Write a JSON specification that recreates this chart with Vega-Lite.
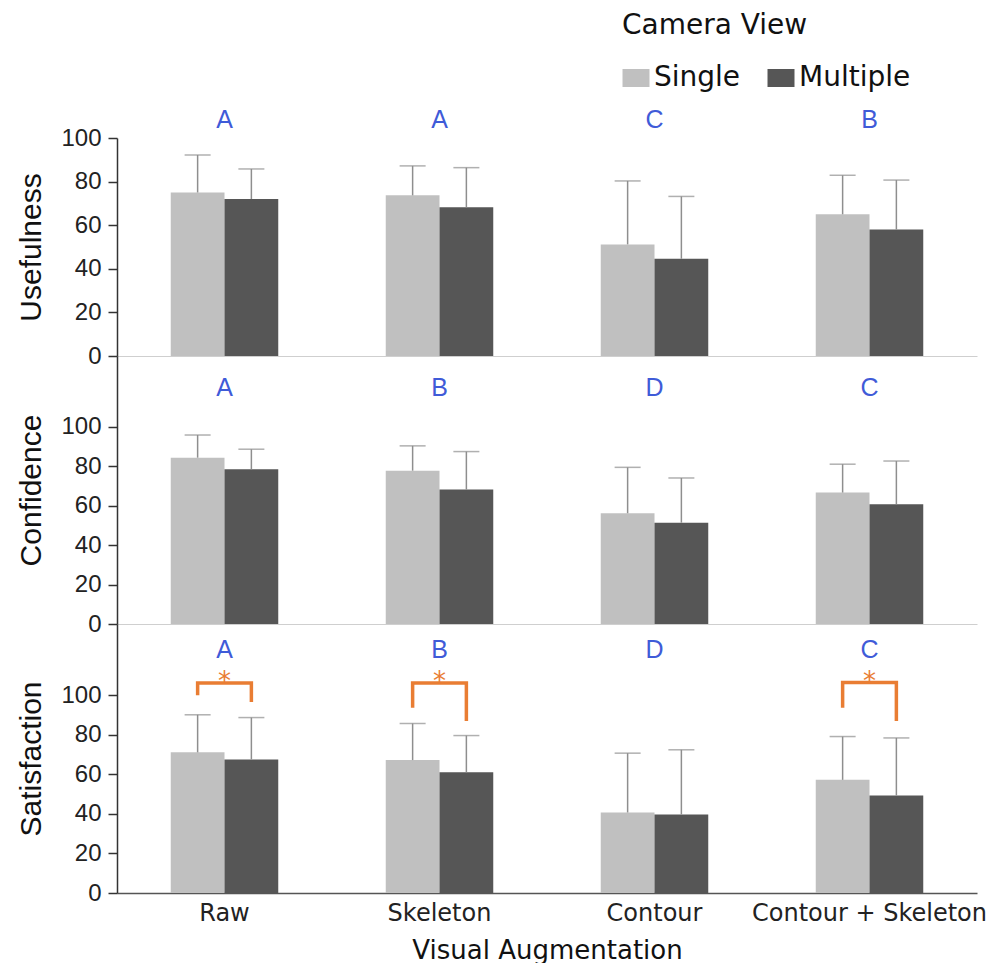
{
  "$schema": "https://vega.github.io/schema/vega-lite/v6.json",
  "padding": {"left": 16, "top": 12, "right": 0, "bottom": 0},
  "background": "white",
  "datasets": {
    "bars": [
      {"metric": "Usefulness", "aug": "Raw", "view": "Single", "mean": 75, "upper": 92.2},
      {"metric": "Usefulness", "aug": "Raw", "view": "Multiple", "mean": 72, "upper": 85.8},
      {"metric": "Usefulness", "aug": "Skeleton", "view": "Single", "mean": 73.7, "upper": 87.2},
      {"metric": "Usefulness", "aug": "Skeleton", "view": "Multiple", "mean": 68.2, "upper": 86.4},
      {"metric": "Usefulness", "aug": "Contour", "view": "Single", "mean": 51.2, "upper": 80.3},
      {"metric": "Usefulness", "aug": "Contour", "view": "Multiple", "mean": 44.6, "upper": 73.2},
      {"metric": "Usefulness", "aug": "Contour + Skeleton", "view": "Single", "mean": 65, "upper": 82.9},
      {"metric": "Usefulness", "aug": "Contour + Skeleton", "view": "Multiple", "mean": 58, "upper": 80.7},
      {"metric": "Confidence", "aug": "Raw", "view": "Single", "mean": 84.4, "upper": 95.9},
      {"metric": "Confidence", "aug": "Raw", "view": "Multiple", "mean": 78.5, "upper": 88.7},
      {"metric": "Confidence", "aug": "Skeleton", "view": "Single", "mean": 77.8, "upper": 90.4},
      {"metric": "Confidence", "aug": "Skeleton", "view": "Multiple", "mean": 68.2, "upper": 87.5},
      {"metric": "Confidence", "aug": "Contour", "view": "Single", "mean": 56.2, "upper": 79.5},
      {"metric": "Confidence", "aug": "Contour", "view": "Multiple", "mean": 51.4, "upper": 74.1},
      {"metric": "Confidence", "aug": "Contour + Skeleton", "view": "Single", "mean": 66.7, "upper": 81.1},
      {"metric": "Confidence", "aug": "Contour + Skeleton", "view": "Multiple", "mean": 60.8, "upper": 82.7},
      {"metric": "Satisfaction", "aug": "Raw", "view": "Single", "mean": 71.1, "upper": 90.1},
      {"metric": "Satisfaction", "aug": "Raw", "view": "Multiple", "mean": 67.5, "upper": 88.7},
      {"metric": "Satisfaction", "aug": "Skeleton", "view": "Single", "mean": 67.2, "upper": 85.7},
      {"metric": "Satisfaction", "aug": "Skeleton", "view": "Multiple", "mean": 61, "upper": 79.6},
      {"metric": "Satisfaction", "aug": "Contour", "view": "Single", "mean": 40.7, "upper": 70.7},
      {"metric": "Satisfaction", "aug": "Contour", "view": "Multiple", "mean": 39.7, "upper": 72.4},
      {"metric": "Satisfaction", "aug": "Contour + Skeleton", "view": "Single", "mean": 57.2, "upper": 79.1},
      {"metric": "Satisfaction", "aug": "Contour + Skeleton", "view": "Multiple", "mean": 49.3, "upper": 78.4}
    ],
    "letters": [
      {"metric": "Usefulness", "aug": "Raw", "letter": "A"},
      {"metric": "Usefulness", "aug": "Skeleton", "letter": "A"},
      {"metric": "Usefulness", "aug": "Contour", "letter": "C"},
      {"metric": "Usefulness", "aug": "Contour + Skeleton", "letter": "B"},
      {"metric": "Confidence", "aug": "Raw", "letter": "A"},
      {"metric": "Confidence", "aug": "Skeleton", "letter": "B"},
      {"metric": "Confidence", "aug": "Contour", "letter": "D"},
      {"metric": "Confidence", "aug": "Contour + Skeleton", "letter": "C"},
      {"metric": "Satisfaction", "aug": "Raw", "letter": "A"},
      {"metric": "Satisfaction", "aug": "Skeleton", "letter": "B"},
      {"metric": "Satisfaction", "aug": "Contour", "letter": "D"},
      {"metric": "Satisfaction", "aug": "Contour + Skeleton", "letter": "C"}
    ],
    "brackets": [
      {"aug": "Raw", "view": "Single", "y": 100, "ord": 1},
      {"aug": "Raw", "view": "Single", "y": 106.2, "ord": 2},
      {"aug": "Raw", "view": "Multiple", "y": 106.2, "ord": 3},
      {"aug": "Raw", "view": "Multiple", "y": 96.6, "ord": 4},
      {"aug": "Skeleton", "view": "Single", "y": 93.6, "ord": 1},
      {"aug": "Skeleton", "view": "Single", "y": 106.2, "ord": 2},
      {"aug": "Skeleton", "view": "Multiple", "y": 106.2, "ord": 3},
      {"aug": "Skeleton", "view": "Multiple", "y": 86.9, "ord": 4},
      {"aug": "Contour + Skeleton", "view": "Single", "y": 93.6, "ord": 1},
      {"aug": "Contour + Skeleton", "view": "Single", "y": 106.4, "ord": 2},
      {"aug": "Contour + Skeleton", "view": "Multiple", "y": 106.4, "ord": 3},
      {"aug": "Contour + Skeleton", "view": "Multiple", "y": 86.9, "ord": 4}
    ],
    "stars": [
      {"aug": "Raw", "mark": "*"},
      {"aug": "Skeleton", "mark": "*"},
      {"aug": "Contour + Skeleton", "mark": "*"}
    ]
  },
  "vconcat": [
    {
      "width": 860,
      "height": 218,
      "layer": [
        {
          "data": {"name": "bars"},
          "transform": [{"filter": "datum.metric == 'Usefulness'"}],
          "mark": {"type": "bar"},
          "encoding": {
            "x": {"field": "aug", "type": "nominal", "sort": ["Raw", "Skeleton", "Contour", "Contour + Skeleton"], "scale": {"paddingInner": 0.5, "paddingOuter": 0.25}, "axis": {"labels": false, "ticks": false, "title": null, "domainColor": "#cfcfcf", "domainWidth": 1}},
            "xOffset": {"field": "view", "type": "nominal", "sort": ["Single", "Multiple"], "scale": {"paddingInner": 0, "paddingOuter": 0}},
            "y": {"field": "mean", "type": "quantitative", "scale": {"domain": [0, 100], "nice": false}, "axis": {"values": [0, 20, 40, 60, 80, 100], "title": "Usefulness"}},
            "color": {"field": "view", "type": "nominal", "sort": ["Single", "Multiple"], "scale": {"domain": ["Single", "Multiple"], "range": ["#c0c0c0", "#565656"]}, "title": "Camera View"}
          }
        },
        {
          "data": {"name": "bars"},
          "transform": [{"filter": "datum.metric == 'Usefulness'"}],
          "mark": {"type": "rule", "color": "#8e8e8e", "strokeWidth": 1.5},
          "encoding": {
            "x": {"field": "aug", "type": "nominal", "sort": ["Raw", "Skeleton", "Contour", "Contour + Skeleton"]},
            "xOffset": {"field": "view", "type": "nominal", "sort": ["Single", "Multiple"]},
            "y": {"field": "mean", "type": "quantitative"},
            "y2": {"field": "upper"}
          }
        },
        {
          "data": {"name": "bars"},
          "transform": [{"filter": "datum.metric == 'Usefulness'"}],
          "mark": {"type": "tick", "color": "#8e8e8e", "thickness": 1.5, "size": 26, "orient": "horizontal"},
          "encoding": {
            "x": {"field": "aug", "type": "nominal", "sort": ["Raw", "Skeleton", "Contour", "Contour + Skeleton"]},
            "xOffset": {"field": "view", "type": "nominal", "sort": ["Single", "Multiple"]},
            "y": {"field": "upper", "type": "quantitative"}
          }
        },
        {
          "data": {"name": "letters"},
          "transform": [{"filter": "datum.metric == 'Usefulness'"}],
          "mark": {"type": "text", "color": "#3f5bd8", "font": "Liberation Sans", "fontSize": 25, "baseline": "middle"},
          "encoding": {
            "x": {"field": "aug", "type": "nominal", "sort": ["Raw", "Skeleton", "Contour", "Contour + Skeleton"]},
            "y": {"datum": 108.3},
            "text": {"field": "letter"}
          }
        }
      ]
    },
    {
      "width": 860,
      "height": 268,
      "layer": [
        {
          "data": {"name": "bars"},
          "transform": [{"filter": "datum.metric == 'Confidence'"}],
          "mark": {"type": "bar"},
          "encoding": {
            "x": {"field": "aug", "type": "nominal", "sort": ["Raw", "Skeleton", "Contour", "Contour + Skeleton"], "scale": {"paddingInner": 0.5, "paddingOuter": 0.25}, "axis": {"labels": false, "ticks": false, "title": null, "domainColor": "#cfcfcf", "domainWidth": 1}},
            "xOffset": {"field": "view", "type": "nominal", "sort": ["Single", "Multiple"], "scale": {"paddingInner": 0, "paddingOuter": 0}},
            "y": {"field": "mean", "type": "quantitative", "scale": {"domain": [0, 136], "nice": false}, "axis": {"values": [0, 20, 40, 60, 80, 100], "title": "Confidence"}},
            "color": {"field": "view", "type": "nominal", "sort": ["Single", "Multiple"], "scale": {"domain": ["Single", "Multiple"], "range": ["#c0c0c0", "#565656"]}, "title": "Camera View"}
          }
        },
        {
          "data": {"name": "bars"},
          "transform": [{"filter": "datum.metric == 'Confidence'"}],
          "mark": {"type": "rule", "color": "#8e8e8e", "strokeWidth": 1.5},
          "encoding": {
            "x": {"field": "aug", "type": "nominal", "sort": ["Raw", "Skeleton", "Contour", "Contour + Skeleton"]},
            "xOffset": {"field": "view", "type": "nominal", "sort": ["Single", "Multiple"]},
            "y": {"field": "mean", "type": "quantitative"},
            "y2": {"field": "upper"}
          }
        },
        {
          "data": {"name": "bars"},
          "transform": [{"filter": "datum.metric == 'Confidence'"}],
          "mark": {"type": "tick", "color": "#8e8e8e", "thickness": 1.5, "size": 26, "orient": "horizontal"},
          "encoding": {
            "x": {"field": "aug", "type": "nominal", "sort": ["Raw", "Skeleton", "Contour", "Contour + Skeleton"]},
            "xOffset": {"field": "view", "type": "nominal", "sort": ["Single", "Multiple"]},
            "y": {"field": "upper", "type": "quantitative"}
          }
        },
        {
          "data": {"name": "letters"},
          "transform": [{"filter": "datum.metric == 'Confidence'"}],
          "mark": {"type": "text", "color": "#3f5bd8", "font": "Liberation Sans", "fontSize": 25, "baseline": "middle"},
          "encoding": {
            "x": {"field": "aug", "type": "nominal", "sort": ["Raw", "Skeleton", "Contour", "Contour + Skeleton"]},
            "y": {"datum": 119.8},
            "text": {"field": "letter"}
          }
        }
      ]
    },
    {
      "width": 860,
      "height": 269,
      "layer": [
        {
          "data": {"name": "bars"},
          "transform": [{"filter": "datum.metric == 'Satisfaction'"}],
          "mark": {"type": "bar"},
          "encoding": {
            "x": {"field": "aug", "type": "nominal", "sort": ["Raw", "Skeleton", "Contour", "Contour + Skeleton"], "scale": {"paddingInner": 0.5, "paddingOuter": 0.25}, "axis": {"ticks": false, "title": "Visual Augmentation", "domainColor": "#555555", "domainWidth": 1.5, "labelAngle": 0, "labelLimit": 400, "labelFont": "DejaVu Sans", "labelFontSize": 24, "labelColor": "#222222", "labelPadding": 8, "titleFont": "DejaVu Sans", "titleFontSize": 26, "titleFontWeight": "normal", "titleColor": "#111111", "titlePadding": 12}},
            "xOffset": {"field": "view", "type": "nominal", "sort": ["Single", "Multiple"], "scale": {"paddingInner": 0, "paddingOuter": 0}},
            "y": {"field": "mean", "type": "quantitative", "scale": {"domain": [0, 136], "nice": false}, "axis": {"values": [0, 20, 40, 60, 80, 100], "title": "Satisfaction"}},
            "color": {"field": "view", "type": "nominal", "sort": ["Single", "Multiple"], "scale": {"domain": ["Single", "Multiple"], "range": ["#c0c0c0", "#565656"]}, "title": "Camera View"}
          }
        },
        {
          "data": {"name": "bars"},
          "transform": [{"filter": "datum.metric == 'Satisfaction'"}],
          "mark": {"type": "rule", "color": "#8e8e8e", "strokeWidth": 1.5},
          "encoding": {
            "x": {"field": "aug", "type": "nominal", "sort": ["Raw", "Skeleton", "Contour", "Contour + Skeleton"]},
            "xOffset": {"field": "view", "type": "nominal", "sort": ["Single", "Multiple"]},
            "y": {"field": "mean", "type": "quantitative"},
            "y2": {"field": "upper"}
          }
        },
        {
          "data": {"name": "bars"},
          "transform": [{"filter": "datum.metric == 'Satisfaction'"}],
          "mark": {"type": "tick", "color": "#8e8e8e", "thickness": 1.5, "size": 26, "orient": "horizontal"},
          "encoding": {
            "x": {"field": "aug", "type": "nominal", "sort": ["Raw", "Skeleton", "Contour", "Contour + Skeleton"]},
            "xOffset": {"field": "view", "type": "nominal", "sort": ["Single", "Multiple"]},
            "y": {"field": "upper", "type": "quantitative"}
          }
        },
        {
          "data": {"name": "brackets"},
          "mark": {"type": "line", "color": "#e97d33", "strokeWidth": 3.5, "strokeCap": "butt", "strokeJoin": "miter"},
          "encoding": {
            "x": {"field": "aug", "type": "nominal", "sort": ["Raw", "Skeleton", "Contour", "Contour + Skeleton"]},
            "xOffset": {"field": "view", "type": "nominal", "sort": ["Single", "Multiple"]},
            "y": {"field": "y", "type": "quantitative"},
            "detail": {"field": "aug"},
            "order": {"field": "ord", "type": "quantitative"}
          }
        },
        {
          "data": {"name": "stars"},
          "mark": {"type": "text", "color": "#e97d33", "font": "DejaVu Sans", "fontSize": 26, "baseline": "alphabetic"},
          "encoding": {
            "x": {"field": "aug", "type": "nominal", "sort": ["Raw", "Skeleton", "Contour", "Contour + Skeleton"]},
            "y": {"datum": 102.5},
            "text": {"field": "mark"}
          }
        },
        {
          "data": {"name": "letters"},
          "transform": [{"filter": "datum.metric == 'Satisfaction'"}],
          "mark": {"type": "text", "color": "#3f5bd8", "font": "Liberation Sans", "fontSize": 25, "baseline": "middle"},
          "encoding": {
            "x": {"field": "aug", "type": "nominal", "sort": ["Raw", "Skeleton", "Contour", "Contour + Skeleton"]},
            "y": {"datum": 122.7},
            "text": {"field": "letter"}
          }
        }
      ]
    }
  ],
  "spacing": 0,
  "bounds": "flush",
  "config": {
    "view": {"stroke": null},
    "axisY": {
      "grid": false,
      "labelFont": "Liberation Sans",
      "labelFontSize": 24,
      "labelColor": "#222222",
      "labelPadding": 7,
      "tickSize": 9,
      "tickColor": "#333333",
      "tickWidth": 1.5,
      "domainColor": "#333333",
      "domainWidth": 1.5,
      "titleFont": "Liberation Sans",
      "titleFontSize": 30,
      "titleFontWeight": "normal",
      "titleColor": "#111111",
      "titlePadding": 14
    },
    "axisX": {"grid": false},
    "legend": {
      "orient": "none",
      "legendX": 505,
      "legendY": -126,
      "direction": "horizontal",
      "titleOrient": "top",
      "titleAnchor": "start",
      "titleLimit": 500,
      "titleFont": "DejaVu Sans",
      "titleFontSize": 28,
      "titleFontWeight": "normal",
      "titleColor": "#111111",
      "titlePadding": 24,
      "labelFont": "DejaVu Sans",
      "labelFontSize": 28,
      "labelColor": "#111111",
      "labelLimit": 300,
      "labelOffset": 4,
      "symbolType": "M-1.5,-1H1.5V1H-1.5Z",
      "symbolSize": 324,
      "symbolStrokeWidth": 0,
      "symbolOpacity": 1,
      "columnPadding": 26
    }
  }
}
